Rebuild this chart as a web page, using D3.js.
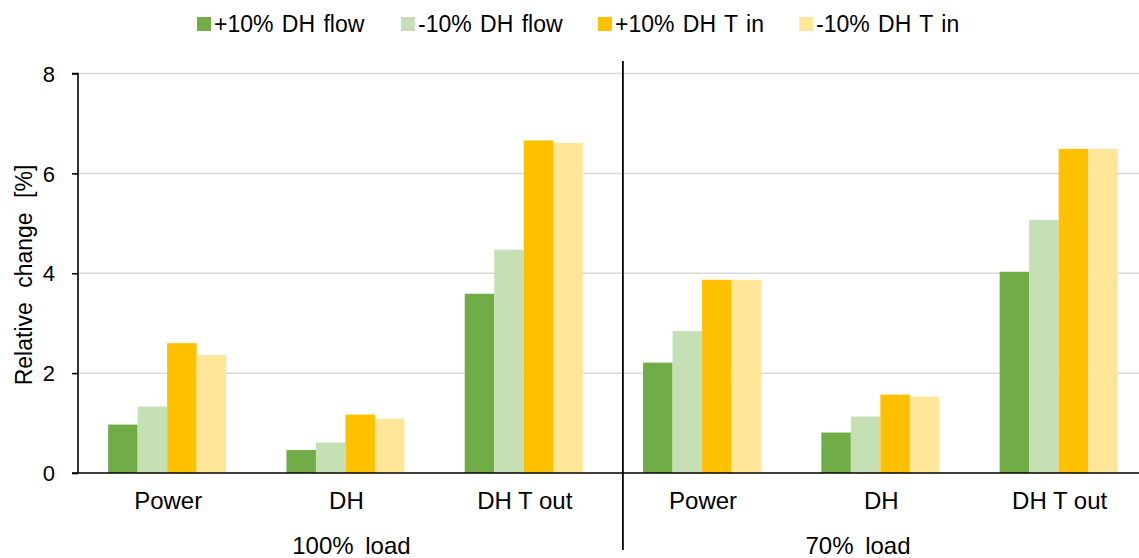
<!DOCTYPE html>
<html><head><meta charset="utf-8">
<script src="https://cdn.jsdelivr.net/npm/d3@7"></script>
<style>
html,body{margin:0;padding:0;background:#fff;}
svg{display:block;font-family:"Liberation Sans",Arial,sans-serif;}
</style></head>
<body>
<svg id="chart" width="1139" height="558"></svg>
<script>
const loads = ["100% load", "70% load"];
const categories = ["Power", "DH", "DH T out"];
const seriesNames = ["+10% DH flow", "-10% DH flow", "+10% DH T in", "-10% DH T in"];
const seriesColors = ["#70ad47", "#c5e0b4", "#ffc000", "#ffe699"];
// values per series, in order: 100% Power, DH, DH T out, 70% Power, DH, DH T out
const plusFlow  = [0.97, 0.46, 3.59, 2.21, 0.81, 4.03];
const minusFlow = [1.33, 0.61, 4.47, 2.84, 1.13, 5.07];
const plusTin   = [2.60, 1.17, 6.66, 3.87, 1.57, 6.49];
const minusTin  = [2.36, 1.09, 6.61, 3.87, 1.53, 6.49];
const yTicks = [0, 2, 4, 6, 8];

(function(){
const seriesValues = [plusFlow, minusFlow, plusTin, minusTin];
const keys = [];
loads.forEach(l => categories.forEach(c => keys.push(l + "|" + c)));

const svg = d3.select("#chart");
const plotLeft = 78, plotBottom = 473, plotTop = 73.5;
const step = 178.3;
const x0 = d3.scaleBand().domain(keys).range([plotLeft, plotLeft + step * keys.length]).paddingInner(0).paddingOuter(0);
const pad = x0.bandwidth() * 0.169;
const x1 = d3.scaleBand().domain(seriesNames).range([pad, x0.bandwidth() - pad]).padding(0);
const y = d3.scaleLinear().domain([0, 8]).range([plotBottom, plotTop]);

// gridlines
svg.append("g").selectAll("line").data(yTicks.filter(d => d > 0)).join("line")
  .attr("x1", plotLeft).attr("x2", 1139)
  .attr("y1", d => y(d)).attr("y2", d => y(d))
  .attr("stroke", "#d9d9d9").attr("stroke-width", 1.5);

// bars
const gBars = svg.append("g");
seriesNames.forEach((s, si) => {
  gBars.append("g").attr("fill", seriesColors[si]).selectAll("rect")
    .data(seriesValues[si]).join("rect")
    .attr("x", (d, i) => x0(keys[i]) + x1(s))
    .attr("width", x1.bandwidth())
    .attr("y", d => y(d))
    .attr("height", d => y(0) - y(d));
});

// y axis
const yAxis = d3.axisLeft(y).tickValues(yTicks).tickSize(6).tickPadding(17).tickFormat(d3.format("d"));
const gy = svg.append("g").attr("transform", `translate(${plotLeft},0)`).call(yAxis);
gy.select(".domain").attr("stroke", "#000").attr("stroke-width", 1.6).attr("d", `M-6,${y(8)}H0V${y(0)}`);
gy.selectAll(".tick line").attr("stroke", "#000").attr("stroke-width", 1.6);
gy.selectAll(".tick text").attr("font-size", 22).attr("fill", "#000").attr("font-family", "Liberation Sans, Arial, sans-serif").attr("dy", "0.35em");

// x axis line
svg.append("line").attr("x1", plotLeft - 6).attr("x2", 1139).attr("y1", y(0)).attr("y2", y(0))
  .attr("stroke", "#000").attr("stroke-width", 1.6);

// category labels
svg.append("g").selectAll("text").data(keys).join("text")
  .attr("x", d => x0(d) + x0.bandwidth() / 2 + 1)
  .attr("y", 509)
  .attr("text-anchor", "middle").attr("font-size", 24).attr("fill", "#000")
  .text(d => d.split("|")[1]);

// separator between load groups
const sepX = x0(keys[3]) + 10;
svg.append("line").attr("x1", sepX).attr("x2", sepX).attr("y1", 61).attr("y2", 550)
  .attr("stroke", "#000").attr("stroke-width", 1.8);

// load labels
const loadX = [(plotLeft + sepX) / 2 + 1, 858];
svg.append("g").selectAll("text").data(loads).join("text")
  .attr("x", (d, i) => loadX[i]).attr("y", 554)
  .attr("text-anchor", "middle").attr("font-size", 24).attr("fill", "#000")
  .attr("word-spacing", 5)
  .text(d => d);

// y title
svg.append("text").attr("transform", "translate(32,275) rotate(-90)")
  .attr("text-anchor", "middle").attr("font-size", 23).attr("fill", "#000").attr("word-spacing", 8)
  .text("Relative change [%]");

// legend
const legendX = [197, 401, 598, 799];
const lg = svg.append("g").selectAll("g").data(seriesNames).join("g")
  .attr("transform", (d, i) => `translate(${legendX[i]},0)`);
lg.append("rect").attr("x", 0).attr("y", 17).attr("width", 14).attr("height", 14)
  .attr("fill", (d, i) => seriesColors[i]);
lg.append("text").attr("x", 17).attr("y", 32).attr("font-size", 23).attr("fill", "#000")
  .attr("word-spacing", 2)
  .text(d => d);
})();
</script>
</body></html>
